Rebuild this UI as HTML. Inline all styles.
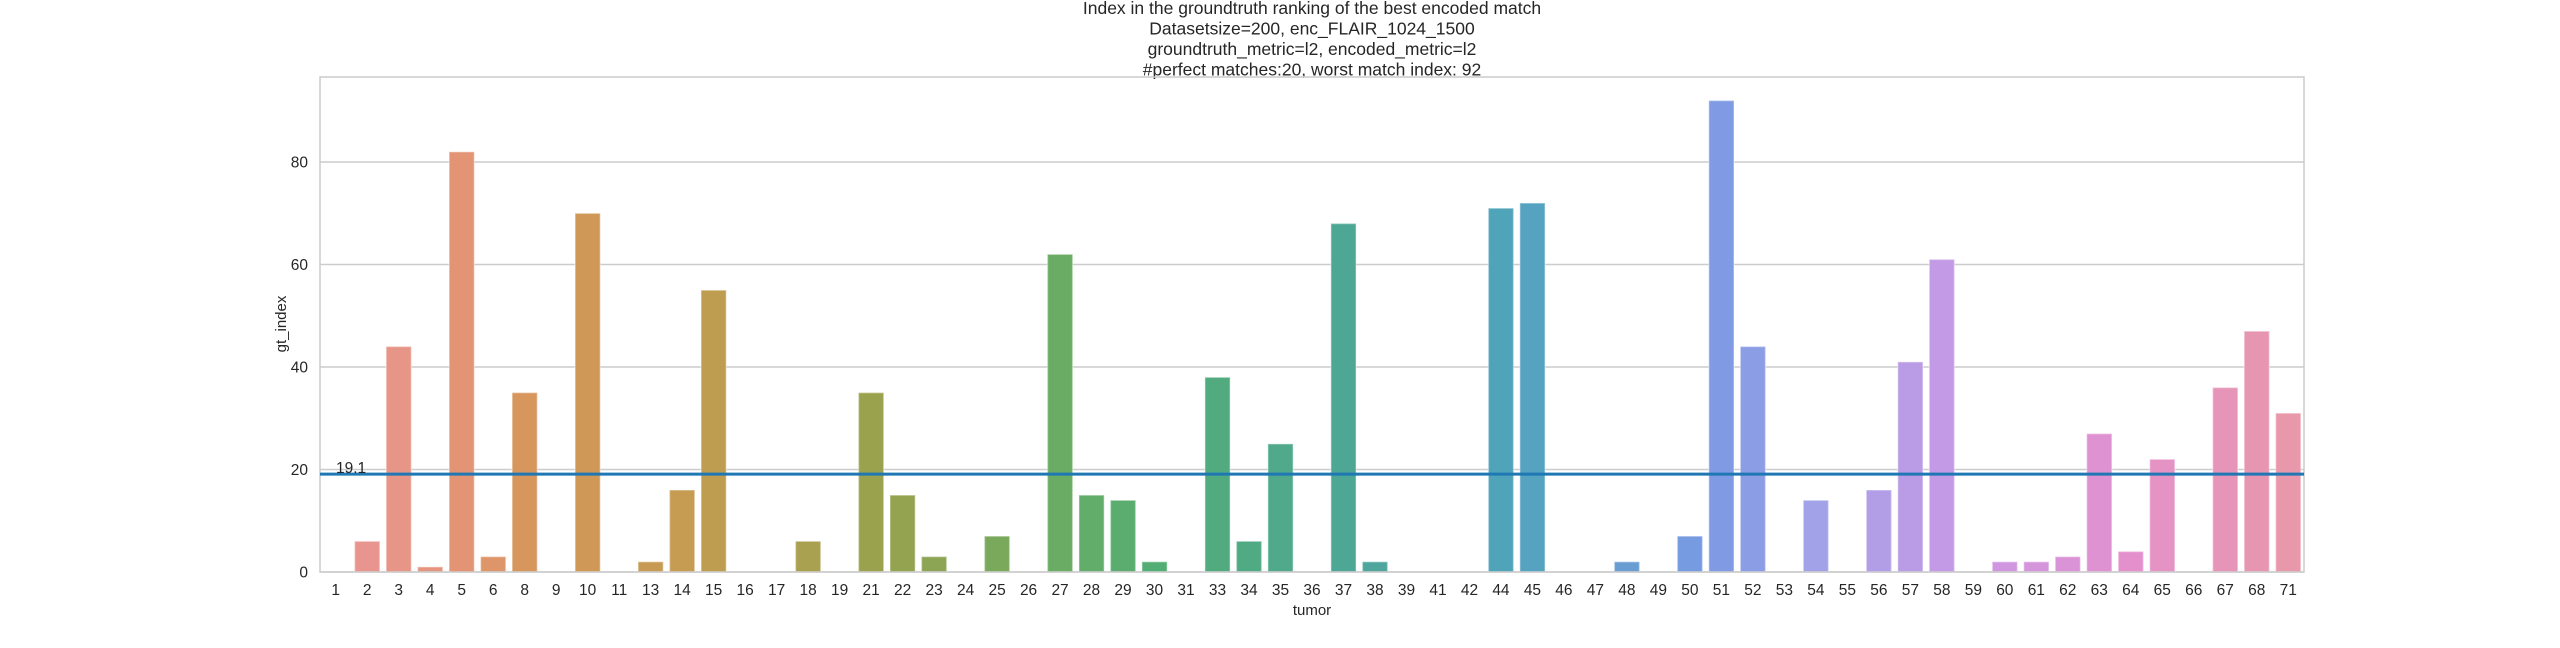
<!DOCTYPE html>
<html><head><meta charset="utf-8"><style>
html,body{margin:0;padding:0;background:#fff;}
svg text{font-family:"Liberation Sans",Arial,sans-serif;fill:#262626;}
</style></head><body>
<svg id="chart" width="2560" height="643" xmlns="http://www.w3.org/2000/svg">
<g font-size="17.5" text-anchor="middle">
<text x="1312" y="14">Index in the groundtruth ranking of the best encoded match</text>
<text x="1312" y="34.5">Datasetsize=200, enc_FLAIR_1024_1500</text>
<text x="1312" y="55">groundtruth_metric=l2, encoded_metric=l2</text>
<text x="1312" y="75.5">#perfect matches:20, worst match index: 92</text>
</g>
<g id="grid"></g>
<g id="bars"></g>
<g id="xt"></g>
<g id="yt"></g>
<rect x="320" y="77" width="1984" height="495" fill="none" stroke="#cccccc" stroke-width="1.5"/>
<g id="mean"></g>
<text x="1312" y="615" font-size="15" text-anchor="middle">tumor</text>
<text x="286" y="324" font-size="15" text-anchor="middle" transform="rotate(-90 286 324)">gt_index</text>
</svg>
<script>
const categories=[1,2,3,4,5,6,8,9,10,11,13,14,15,16,17,18,19,21,22,23,24,25,26,27,28,29,30,31,33,34,35,36,37,38,39,41,42,44,45,46,47,48,49,50,51,52,53,54,55,56,57,58,59,60,61,62,63,64,65,66,67,68,71];
const values=[0,6,44,1,82,3,35,0,70,0,2,16,55,0,0,6,0,35,15,3,0,7,0,62,15,14,2,0,38,6,25,0,68,2,0,0,0,71,72,0,0,2,0,7,92,44,0,14,0,16,41,61,0,2,2,3,27,4,22,0,36,47,31];
const yTicks=[0,20,40,60,80];
const meanValue=19.1;
const NS="http://www.w3.org/2000/svg";
const X0=320,X1=2304,Y0=572,Y1=77,YMAX=96.6;
const band=(X1-X0)/categories.length;
function xs(i){return X0+band*(i+0.5);}
function ys(v){return Y0-(Y0-Y1)*v/YMAX;}
const anchors=[[0,[232,150,150]],[0.06,[228,148,120]],[0.1,[214,150,90]],[0.18,[196,156,82]],[0.28,[152,162,78]],[0.36,[112,172,96]],[0.42,[82,174,116]],[0.52,[78,166,150]],[0.6,[80,164,188]],[0.7,[122,154,226]],[0.76,[162,162,232]],[0.84,[204,152,228]],[0.92,[228,144,204]],[1,[232,152,170]]];
function color(t){for(let k=1;k<anchors.length;k++){if(t<=anchors[k][0]){const a=anchors[k-1],b=anchors[k];const f=(t-a[0])/(b[0]-a[0]);const c=a[1].map((v,j)=>Math.round(v+(b[1][j]-v)*f));return `rgb(${c})`;}}return 'rgb(232,152,170)';}
const grid=document.getElementById('grid'),yt=document.getElementById('yt');
yTicks.forEach(t=>{
 const l=document.createElementNS(NS,'line');
 
 
 l.setAttribute('x1',X0);l.setAttribute('x2',X1);l.setAttribute('y1',ys(t));l.setAttribute('y2',ys(t));
 l.setAttribute('stroke','#cccccc');l.setAttribute('stroke-width','1.5');grid.appendChild(l);
 const tx=document.createElementNS(NS,'text');
 
 
 tx.setAttribute('x',X0-12);tx.setAttribute('y',ys(t)+5.5);tx.setAttribute('font-size','15.5');tx.setAttribute('text-anchor','end');tx.textContent=t;yt.appendChild(tx);
});
const bars=document.getElementById('bars'),xt=document.getElementById('xt');
categories.forEach((c,i)=>{
 const bw=band*0.8,v=values[i];
 const col=color(i/(categories.length-1));
 const r=document.createElementNS(NS,'rect');
 
 
 r.setAttribute('x',xs(i)-bw/2);r.setAttribute('width',bw);
 r.setAttribute('y',ys(v));r.setAttribute('height',Math.max(0,Y0-ys(v)));
 r.setAttribute('fill',col);r.setAttribute('stroke','rgba(255,255,255,0.35)');r.setAttribute('stroke-width','1.5');
 bars.appendChild(r);
 const tx=document.createElementNS(NS,'text');
 
 
 tx.setAttribute('x',xs(i));tx.setAttribute('y',Y0+23);tx.setAttribute('font-size','15.5');tx.setAttribute('text-anchor','middle');tx.textContent=c;xt.appendChild(tx);
});
const m=document.getElementById('mean');
const ml=document.createElementNS(NS,'line');


ml.setAttribute('x1',X0);ml.setAttribute('x2',X1);ml.setAttribute('y1',ys(meanValue));ml.setAttribute('y2',ys(meanValue));
ml.setAttribute('stroke','#1f77b4');ml.setAttribute('stroke-width','3');m.appendChild(ml);
const mt=document.createElementNS(NS,'text');


mt.setAttribute('x',336);mt.setAttribute('y',ys(meanValue)-1);mt.setAttribute('font-size','15.5');mt.textContent=meanValue;m.appendChild(mt);
</script>
</body></html>
